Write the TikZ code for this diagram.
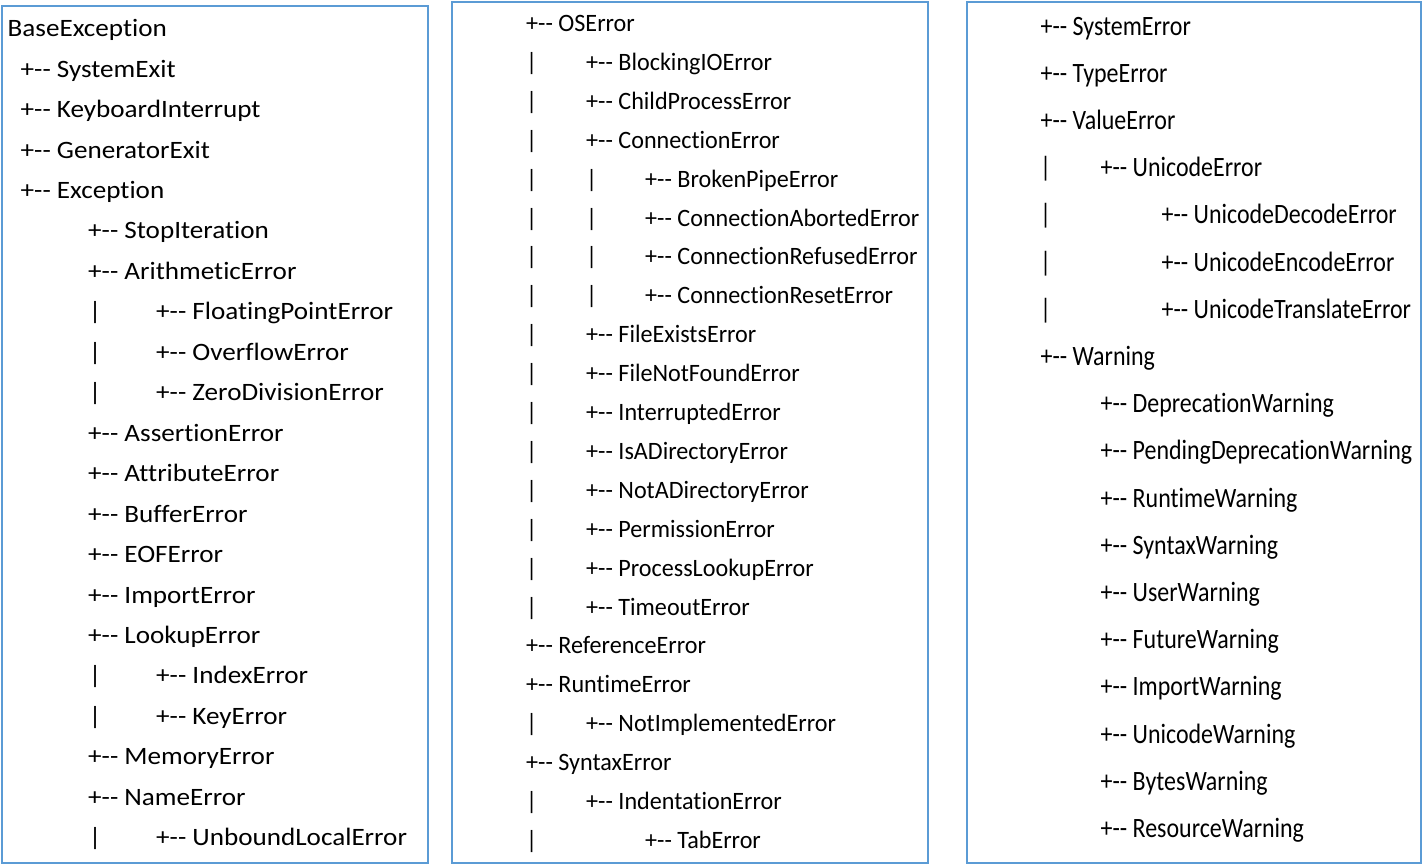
\documentclass[tikz,border=0pt]{standalone}
\usepackage{fontspec}
\newfontfamily\leftfont[FakeStretch=1.085,Ligatures=NoCommon]{Carlito}
\newfontfamily\midfont[FakeStretch=0.965,Ligatures=NoCommon]{Carlito}
\newfontfamily\rightfont[FakeStretch=0.855,Ligatures=NoCommon]{Carlito}
\newcommand{\twig}{+-{}-\ }
\definecolor{framecol}{HTML}{5B9BD5}
\begin{document}
\begin{tikzpicture}[x=1pt,y=-1pt,
  frame/.style={draw=#1,line width=2pt},
  entry/.style={anchor=base west,inner sep=0pt},
  bar/.style={anchor=base,inner sep=0pt},
  colA/.style={font=\leftfont\fontsize{25}{30}\selectfont},
  colB/.style={font=\midfont\fontsize{25}{30}\selectfont},
  colC/.style={font=\rightfont\fontsize{28}{33}\selectfont}]
\useasboundingbox (0,0) rectangle (1423,865);
\draw[frame=framecol] (1.5,5.5) rectangle (427.5,862.5);
\draw[frame=framecol] (451.5,2) rectangle (928,862.5);
\draw[frame=framecol] (967,2) rectangle (1420.5,862.5);

% first column
\node[entry,colA] (a0) at (7.5,36.7) {BaseException};
\foreach \lvl/\name [count=\i] in {1/SystemExit,1/KeyboardInterrupt,1/GeneratorExit,
  1/Exception,2/StopIteration,2/ArithmeticError,3/FloatingPointError,3/OverflowError,
  3/ZeroDivisionError,2/AssertionError,2/AttributeError,2/BufferError,2/EOFError,
  2/ImportError,2/LookupError,3/IndexError,3/KeyError,2/MemoryError,2/NameError,
  3/UnboundLocalError}
{
  \pgfmathsetmacro{\xx}{{20.5,88,156}[\lvl-1]}
  \node[entry,colA] (a\i) at (\xx,{36.7+40.45*\i}) {\twig\name};
}
\foreach \i in {7,8,9,16,17,20}
  \node[bar,colA] (abar\i) at (95,{36.7+40.45*\i}) {|};

% second column
\foreach \lvl/\name [count=\i from 0] in {1/OSError,2/BlockingIOError,2/ChildProcessError,
  2/ConnectionError,3/BrokenPipeError,3/ConnectionAbortedError,3/ConnectionRefusedError,
  3/ConnectionResetError,2/FileExistsError,2/FileNotFoundError,2/InterruptedError,
  2/IsADirectoryError,2/NotADirectoryError,2/PermissionError,2/ProcessLookupError,
  2/TimeoutError,1/ReferenceError,1/RuntimeError,2/NotImplementedError,1/SyntaxError,
  2/IndentationError,3/TabError}
{
  \pgfmathsetmacro{\xx}{{526,586,645}[\lvl-1]}
  \node[entry,colB] (b\i) at (\xx,{31.5+38.9*\i}) {\twig\name};
}
\foreach \i in {1,...,15,18,20,21}
  \node[bar,colB] (bbar\i) at (531.7,{31.5+38.9*\i}) {|};
\foreach \i in {4,...,7}
  \node[bar,colB] (bbbar\i) at (591.7,{31.5+38.9*\i}) {|};

% third column
\foreach \lvl/\name [count=\i from 0] in {1/SystemError,1/TypeError,1/ValueError,
  2/UnicodeError,3/UnicodeDecodeError,3/UnicodeEncodeError,3/UnicodeTranslateError,
  1/Warning,2/DeprecationWarning,2/PendingDeprecationWarning,2/RuntimeWarning,
  2/SyntaxWarning,2/UserWarning,2/FutureWarning,2/ImportWarning,2/UnicodeWarning,
  2/BytesWarning,2/ResourceWarning}
{
  \pgfmathsetmacro{\xx}{{1040.5,1100.5,1161.5}[\lvl-1]}
  \node[entry,colC] (c\i) at (\xx,{35+47.2*\i}) {\twig\name};
}
\foreach \i in {3,...,6}
  \node[bar,colC] (cbar\i) at (1045.7,{35+47.2*\i}) {|};
\end{tikzpicture}
\end{document}
